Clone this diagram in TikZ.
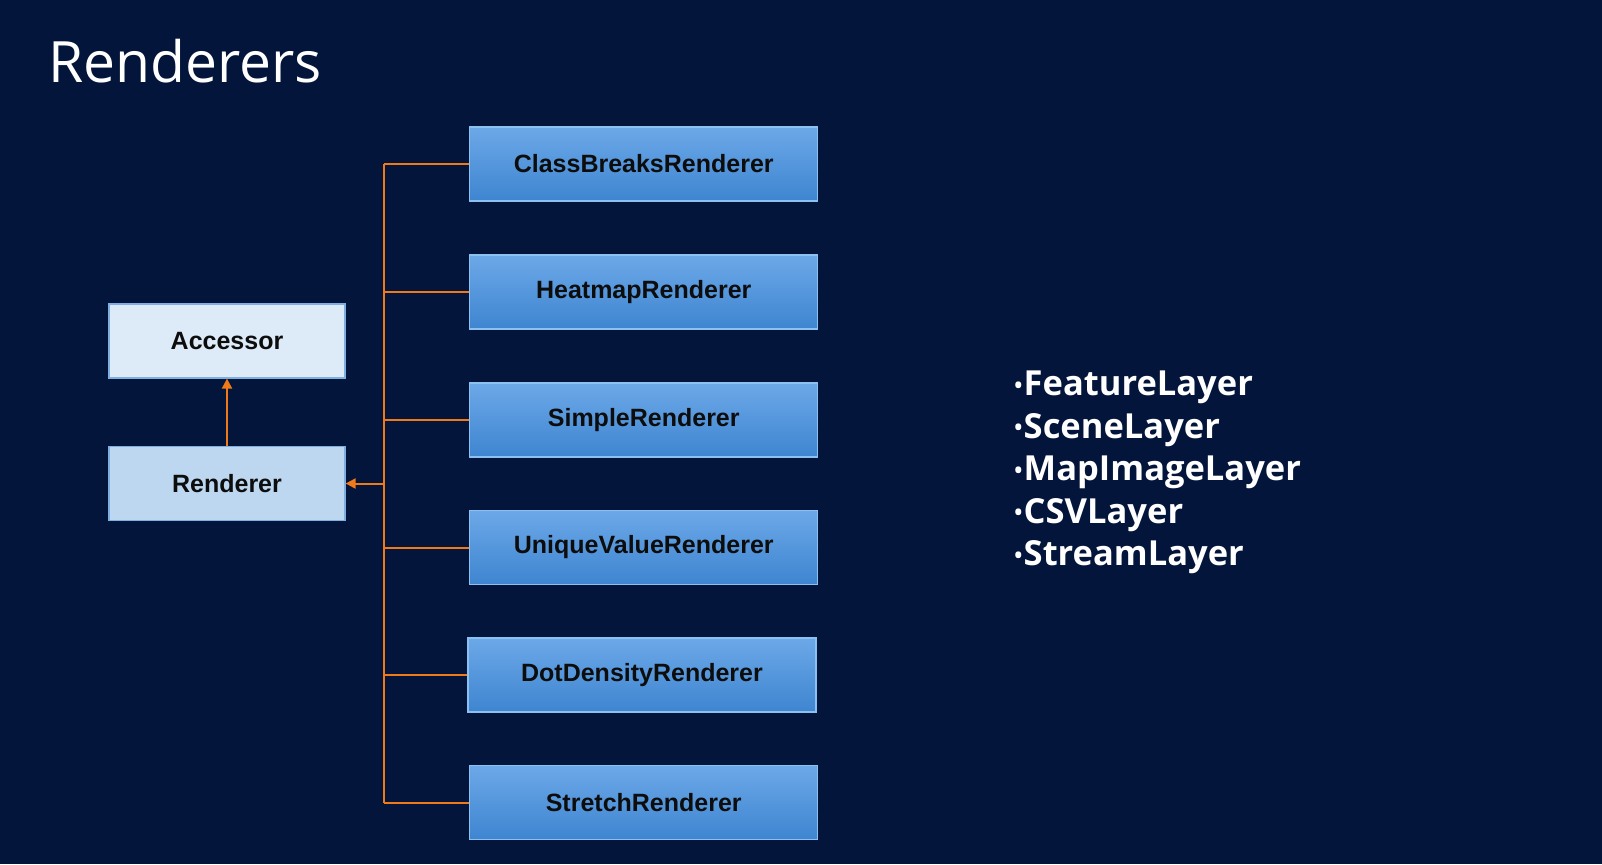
\documentclass[tikz,border=0pt]{standalone}
\usepackage{fontspec}
\setmainfont{Liberation Sans}
\newfontfamily\titlefont{Open Sans}
\newfontfamily\listfont{Open Sans}
\usetikzlibrary{arrows.meta,shadings}
\definecolor{bgc}{HTML}{03153A}
\definecolor{orangec}{HTML}{F07A1A}
\definecolor{acfill}{HTML}{DDEBF8}
\definecolor{rnfill}{HTML}{BDD7F0}
\definecolor{lbord}{HTML}{7FAEE0}
\definecolor{btop}{HTML}{6CA8E8}
\definecolor{bbot}{HTML}{3E85D0}
\definecolor{bbord}{HTML}{8CC0F0}
\newcommand{\lbul}{{\mdseries\raisebox{0.5pt}{\fontsize{28}{30}\selectfont•}}}
\tikzset{
  basebox/.style={minimum height=74pt, inner sep=0pt, font=\fontsize{25}{29}\selectfont\bfseries, text=black!95, line width=1.2pt},
  lightbox/.style={basebox, minimum width=236pt, draw=lbord},
  bluebox/.style={basebox, minimum width=348pt, draw=bbord, top color=btop, bottom color=bbot},
  conn/.style={draw=orangec, line width=2pt},
  tip/.style={-{Triangle[length=10pt,width=10pt]}},
  listitem/.style={anchor=base west, inner sep=0pt, text=white, font=\listfont\fontsize{34.5}{38}\selectfont\bfseries},
}
\begin{document}
\begin{tikzpicture}[x=1pt,y=-1pt]
\fill[bgc] (0,0) rectangle (1602,864);
\useasboundingbox (0,0) rectangle (1602,864);
\node[anchor=base west, inner sep=0pt, text=white, font=\titlefont\fontsize{57}{60}\selectfont] (title) at (48,83) {Renderers};
\node[lightbox, fill=acfill] (acc) at (227,341) {Accessor};
\node[lightbox, fill=rnfill] (ren) at (227,483.5) {Renderer};
\node[bluebox] (cb) at (643.75,164) {ClassBreaksRenderer};
\node[bluebox] (hm) at (643.75,292) {HeatmapRenderer};
\node[bluebox] (si) at (643.75,420) {SimpleRenderer};
\node[bluebox] (uv) at (643.75,547.5) {UniqueValueRenderer};
\node[bluebox] (dd) at (642,675) {DotDensityRenderer};
\node[bluebox] (st) at (643.75,802.5) {StretchRenderer};
\coordinate (bus) at (384,0);
\draw[conn] (cb.west -| bus) -- (st.west -| bus);
\foreach \b in {cb,hm,si,uv,dd,st}{
  \draw[conn] (\b.west -| bus) -- (\b.west);
}
\draw[conn,tip] (ren.east -| bus) -- (ren.east);
\draw[conn,tip] (ren.north) -- (acc.south);
\node[listitem] (l1) at (1013,395.7) {\lbul FeatureLayer};
\node[listitem] (l2) at (1013,438.2) {\lbul SceneLayer};
\node[listitem] (l3) at (1013,480.7) {\lbul MapImageLayer};
\node[listitem] (l4) at (1013,523.2) {\lbul CSVLayer};
\node[listitem] (l5) at (1013,565.7) {\lbul StreamLayer};
\end{tikzpicture}
\end{document}
